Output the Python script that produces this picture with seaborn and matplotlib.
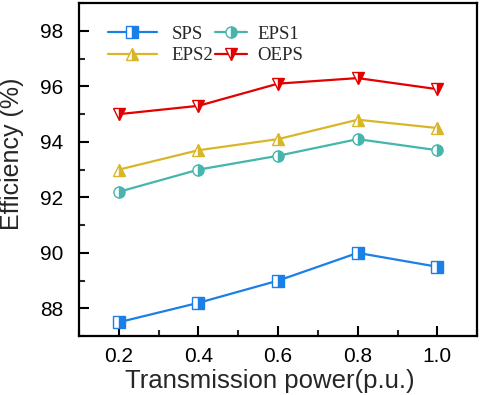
import matplotlib
matplotlib.use("Agg")
import matplotlib.pyplot as plt
import seaborn as sns
import pandas as pd
from matplotlib.ticker import MultipleLocator

power = [0.2, 0.4, 0.6, 0.8, 1.0]
sps = [87.5, 88.2, 89.0, 90.0, 89.5]
eps1 = [92.2, 93.0, 93.5, 94.1, 93.7]
eps2 = [93.0, 93.7, 94.1, 94.8, 94.5]
oeps = [95.0, 95.3, 96.1, 96.3, 95.9]

series = {"SPS": sps, "EPS1": eps1, "EPS2": eps2, "OEPS": oeps}
colors = {"SPS": "#1a7fe6", "EPS1": "#45b5ad", "EPS2": "#d9b52a", "OEPS": "#e30000"}
markers = {"SPS": "s", "EPS1": "o", "EPS2": "^", "OEPS": "v"}

sns.set_style("ticks")
plt.rcParams['font.family'] = ['Liberation Sans', 'DejaVu Sans']

fig, ax = plt.subplots(figsize=(4.84, 3.95), dpi=100)

handles = {}
for name, vals in series.items():
    df = pd.DataFrame({"power": power, "eff": vals})
    sns.lineplot(data=df, x="power", y="eff", ax=ax, color=colors[name],
                 linewidth=1.6, label=name)
    line = ax.lines[-1]
    line.set_marker(markers[name])
    line.set_markersize(8)
    line.set_fillstyle("right")
    line.set_markerfacecolor(colors[name])
    line.set_markerfacecoloralt("white")
    line.set_markeredgecolor(colors[name])
    line.set_markeredgewidth(1.0)
    handles[name] = line

ax.set_xlim(0.1, 1.1)
ax.set_ylim(87, 99)
ax.set_xticks(power)
ax.set_xticklabels(["0.2", "0.4", "0.6", "0.8", "1.0"])
ax.set_yticks([88, 90, 92, 94, 96, 98])
ax.xaxis.set_minor_locator(MultipleLocator(0.1))
ax.yaxis.set_minor_locator(MultipleLocator(1))
ax.tick_params(which="major", direction="in", length=7, width=1.5, labelsize=15, colors="black")
ax.tick_params(which="minor", direction="in", length=4, width=1.5)
ax.tick_params(axis="y", which="major", pad=11)
ax.tick_params(axis="x", which="major", pad=8)
for s in ax.spines.values():
    s.set_linewidth(1.6)
    s.set_color("black")

ax.set_xlabel("Transmission power(p.u.)", fontsize=18.5)
ax.set_ylabel("Efficiency (%)", fontsize=18)
ax.xaxis.set_label_coords(0.48, -0.098)
ax.yaxis.set_label_coords(-0.138, 0.547)

prop = {"family": "Liberation Serif", "size": 13.5}
leg1 = ax.legend([handles["SPS"], handles["EPS2"]], ["SPS", "EPS2"], frameon=False,
                 loc="upper left", bbox_to_anchor=(0.073, 0.932), handlelength=2.6,
                 labelspacing=0.22, handletextpad=0.8, borderpad=0, borderaxespad=0,
                 prop=prop)
ax.add_artist(leg1)
ax.legend([handles["EPS1"], handles["OEPS"]], ["EPS1", "OEPS"], frameon=False,
          loc="upper left", bbox_to_anchor=(0.342, 0.932), handlelength=1.7,
          labelspacing=0.22, handletextpad=0.55, borderpad=0, borderaxespad=0,
          prop=prop)

plt.subplots_adjust(left=0.163, right=0.986, top=0.992, bottom=0.149)
fig.savefig("out.png", dpi=100)
